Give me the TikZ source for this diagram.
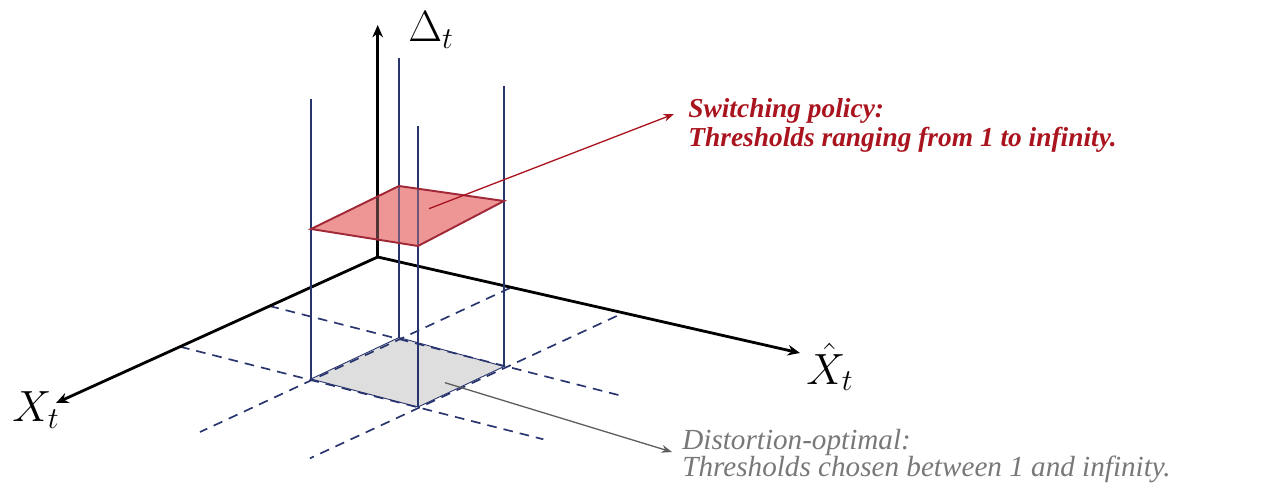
\documentclass[tikz,border=0pt]{standalone}
\usepackage{fontspec}
\newfontfamily\notefont{Liberation Serif}
\usetikzlibrary{arrows.meta}
\definecolor{navy}{RGB}{40,52,110}
\definecolor{darkred}{RGB}{170,20,30}
\definecolor{redfill}{RGB}{238,150,150}
\definecolor{rededge}{RGB}{160,40,55}
\definecolor{grayfill}{RGB}{222,222,222}
\definecolor{graytext}{RGB}{120,120,120}
\definecolor{grayarrow}{RGB}{95,95,95}
\tikzset{
  axis/.style={line width=1.6pt,-{Stealth[length=7pt,width=6pt]}},
  gridline/.style={navy,line width=0.95pt,dash pattern=on 5.5pt off 4pt},
  pole/.style={navy,line width=0.7pt},
  rednote/.style={darkred,font=\notefont\bfseries\itshape\fontsize{15.6}{18}\selectfont,inner sep=0pt},
  graynote/.style={graytext,font=\notefont\itshape\fontsize{16.6}{19}\selectfont,inner sep=0pt},
  axlabel/.style={font=\fontsize{23}{26}\selectfont,inner sep=0pt},
  pointer/.style={line width=0.75pt,-{Stealth[length=6pt,width=4.5pt]}}
}
\begin{document}
\begin{tikzpicture}[x={(0.02cm,0)},y={(0,-0.02cm)}]
\useasboundingbox (0,0) rectangle (1282,483);
% key points
\coordinate (O) at (377.7,257);
\coordinate (Dtip) at (377.7,25);
\coordinate (Xtip) at (56,403);
\coordinate (Htip) at (800,353);
% floor square corners
\coordinate (bl) at (311,379);
\coordinate (bb) at (399,337.5);
\coordinate (br) at (504,366.5);
\coordinate (bf) at (418,407);
% raised square corners
\coordinate (tl) at (311,229);
\coordinate (tb) at (399,186);
\coordinate (tr) at (504,201);
\coordinate (tf) at (418,246);
% tops of the vertical lines
\coordinate (ul) at (311,99);
\coordinate (ub) at (399,58);
\coordinate (uf) at (418,126);
\coordinate (ur) at (504,86);
% dashed line ends
\coordinate (d1a) at (510,288);   \coordinate (d1b) at (200,432);
\coordinate (d2a) at (269.4,306); \coordinate (d2b) at (625,396.7);
\coordinate (d3a) at (616.7,316); \coordinate (d3b) at (310,458.3);
\coordinate (d4a) at (180,346.7); \coordinate (d4b) at (543.3,439.3);
% floor square
\fill[grayfill] (bl) -- (bb) -- (br) -- (bf) -- cycle;
\draw[navy,line width=0.5pt] (bl) -- (bb) -- (br) -- (bf) -- cycle;
% dashed grid
\draw[gridline] (d1a) -- (d1b);
\draw[gridline] (d2a) -- (d2b);
\draw[gridline] (d3a) -- (d3b);
\draw[gridline] (d4a) -- (d4b);
% raised square fill
\fill[redfill] (tl) -- (tb) -- (tr) -- (tf) -- cycle;
% axes
\draw[axis] (O) -- (Dtip);
\draw[axis] (O) -- (Xtip);
\draw[axis] (O) -- (Htip);
\node[axlabel] (dl) at (431,30) {$\Delta_t$};
\node[axlabel] (xl) at (36,410) {$X_t$};
\node[axlabel] (hl) at (830,367) {$\hat{X}_t$};
% vertical lines
\draw[pole] (bl) -- (ul);
\draw[pole] (bb) -- (ub);
\draw[pole] (bf) -- (uf);
\draw[pole] (br) -- (ur);
% raised square edge
\draw[rededge,line width=1.1pt,fill=redfill,fill opacity=0.35] (tl) -- (tb) -- (tr) -- (tf) -- cycle;
% notes
\node[rednote,anchor=base west] (sw1) at (688,118) {Switching policy:};
\node[rednote,anchor=base west] (sw2) at (688,147) {Thresholds ranging from 1 to infinity.};
\node[graynote,anchor=base west] (do1) at (682,449) {Distortion-optimal:};
\node[graynote,anchor=base west] (do2) at (682,476) {Thresholds chosen between 1 and infinity.};
\coordinate (rs) at (429,208.7);
\coordinate (rt) at (674,114);
\coordinate (gs) at (445,382.7);
\coordinate (gt) at (672,452);
\draw[pointer,darkred] (rs) -- (rt);
\draw[pointer,grayarrow] (gs) -- (gt);
\end{tikzpicture}
\end{document}
